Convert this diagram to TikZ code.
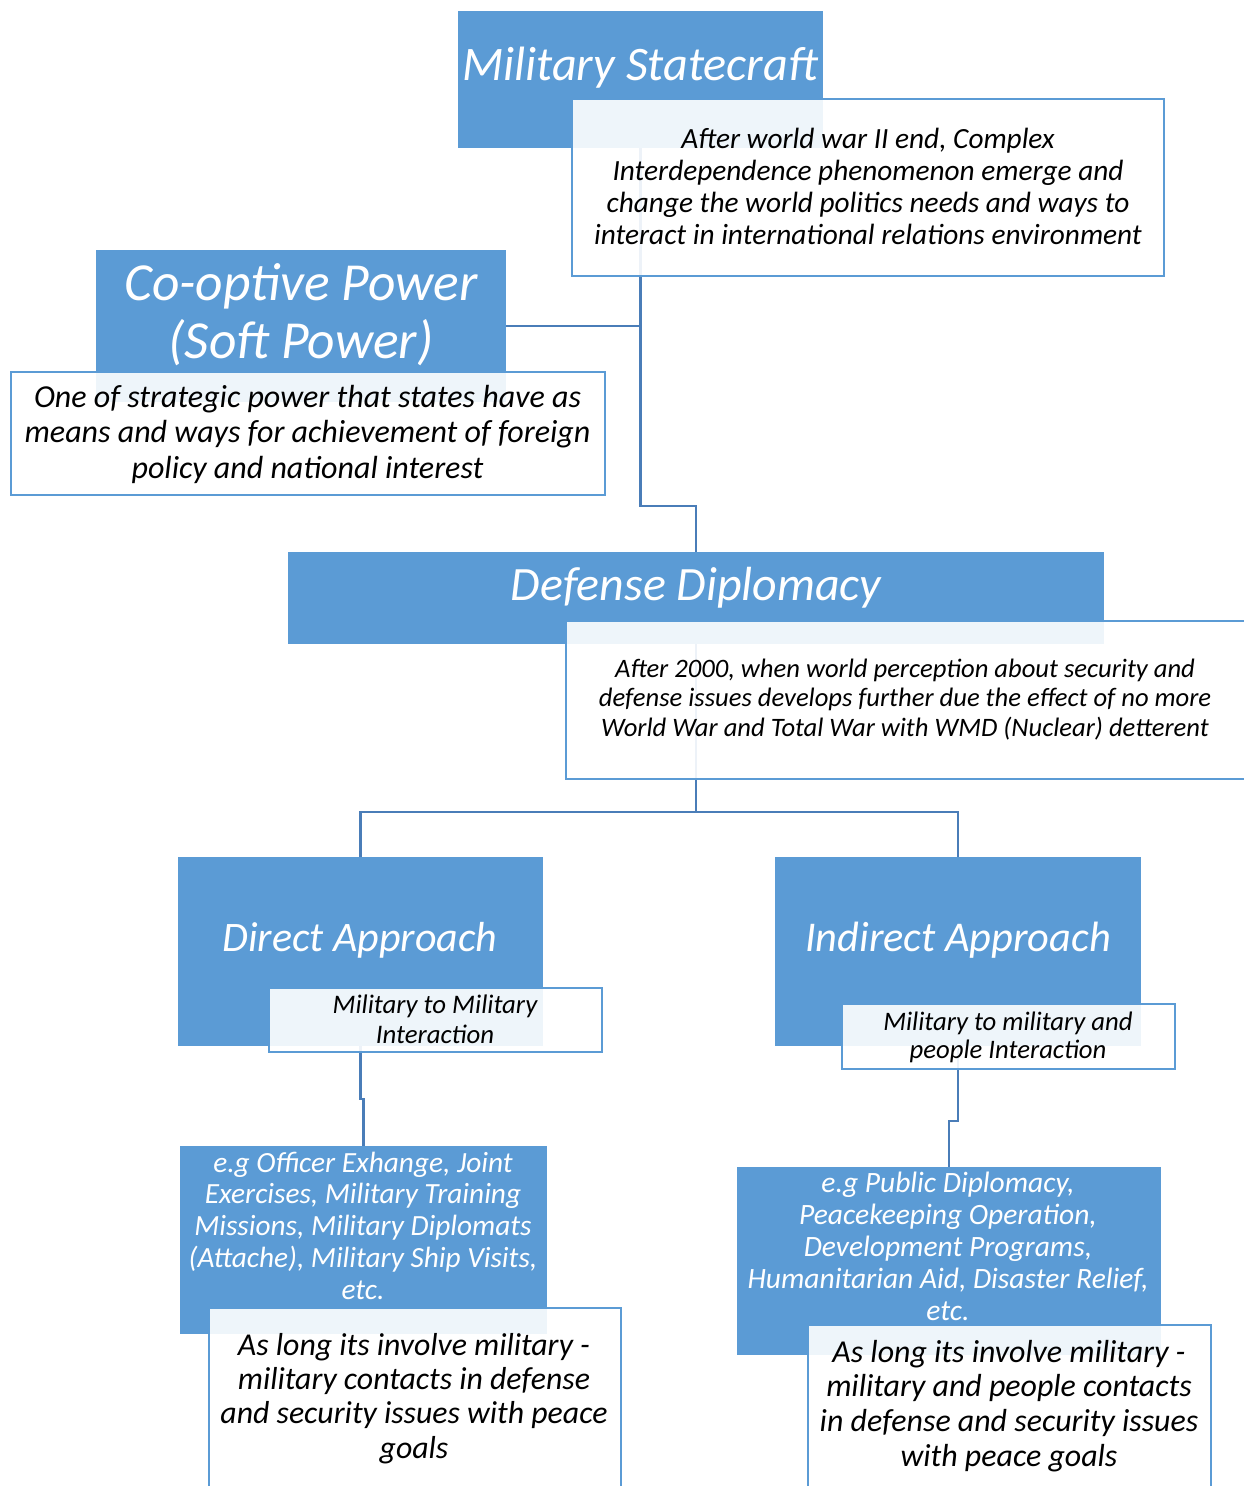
\documentclass[tikz,border=0pt]{standalone}
\usepackage{fontspec}
\setmainfont{Carlito}
\usetikzlibrary{calc}
\definecolor{bfill}{HTML}{5B9BD5}
\definecolor{bline}{HTML}{5B9BD5}
\definecolor{conncol}{HTML}{4A7DB8}
\newcommand\tstr{\rule{0pt}{0.9em}}
\begin{document}
\begin{tikzpicture}[x=1pt,y=-1pt,
  bluebox/.style={fill=bfill, draw=none, inner sep=0pt, outer sep=0pt, anchor=north west},
  whitebox/.style={fill=white, fill opacity=0.9, draw=bline, line width=2.5pt, inner sep=0pt, outer sep=0pt, anchor=north west},
  conn/.style={draw=conncol, line width=2.5pt},
  txt/.style={inner sep=0pt, align=center, anchor=north},
  wtxt/.style={txt, text=white},
  btxt/.style={txt, text=black}
]
\useasboundingbox (0,0) rectangle (1244,1486);

% coordinates for connector elbows
\coordinate (j1) at (0,506);
\coordinate (j2) at (0,812);
\coordinate (j3) at (0,1099);
\coordinate (j4) at (0,1121);

% blue boxes
\node[bluebox, minimum width=365pt, minimum height=137pt] (msb) at (458,11) {};
\node[bluebox, minimum width=410pt, minimum height=152pt] (cob) at (96,250) {};
\node[bluebox, minimum width=816pt, minimum height=92pt] (ddb) at (288,552) {};
\node[bluebox, minimum width=365pt, minimum height=189pt] (dab) at (178,857) {};
\node[bluebox, minimum width=366pt, minimum height=189pt] (iab) at (775,857) {};
\node[bluebox, minimum width=367pt, minimum height=188pt] (deb) at (180,1146) {};
\node[bluebox, minimum width=424pt, minimum height=188pt] (ieb) at (737,1167) {};

% connectors (behind the white boxes)
\draw[conn] (msb.south) |- (j1 -| ddb.north) -- (ddb.north);
\draw[conn] (cob.east) -- (cob.east -| msb.south);
\draw[conn] (ddb.south) -- (ddb.south |- j2);
\draw[conn] (dab.north) |- (j2 -| iab.north) -- (iab.north);
\draw[conn] (dab.south) -- (dab.south |- j3) -| (deb.north);
\draw[conn] (iab.south) -- (iab.south |- j4) -| (ieb.north);

% white boxes
\node[whitebox, minimum width=592pt, minimum height=177pt] (msw) at (572,99) {};
\node[whitebox, minimum width=594pt, minimum height=123pt] (cow) at (11,372) {};
\node[whitebox, minimum width=700pt, minimum height=158pt] (ddw) at (566,621) {};
\node[whitebox, minimum width=333pt, minimum height=64pt] (daw) at (269,988) {};
\node[whitebox, minimum width=333pt, minimum height=65pt] (iaw) at (842,1004) {};
\node[whitebox, minimum width=412pt, minimum height=200pt] (dew) at (209,1308) {};
\node[whitebox, minimum width=403pt, minimum height=200pt] (iew) at (808,1325) {};

% texts
\node[wtxt, font=\fontsize{48.2}{56}\selectfont\itshape] (mst) at (640,36.6) {\tstr Military Statecraft};
\node[btxt, font=\fontsize{29.3}{32.2}\selectfont\itshape] (msd) at (868,121.6)
  {\tstr After world war II end, Complex\\Interdependence phenomenon emerge and\\change the world politics needs and ways to\\interact in international relations environment};
\node[wtxt, font=\fontsize{53.5}{58}\selectfont\itshape] (cot) at (301,251.85) {\tstr Co-optive Power\\(Soft Power)};
\node[btxt, font=\fontsize{32}{35.5}\selectfont\itshape] (cod) at (307.5,378.2)
  {\tstr One of strategic power that states have as\\means and ways for achievement of foreign\\policy and national interest};
\node[wtxt, font=\fontsize{47.9}{56}\selectfont\itshape] (ddt) at (696,556.9) {\tstr Defense Diplomacy};
\node[btxt, font=\fontsize{26.6}{29.5}\selectfont\itshape] (ddd) at (905,653.1)
  {\tstr After 2000, when world perception about security and\\defense issues develops further due the effect of no more\\World War and Total War with WMD (Nuclear) detterent};
\node[wtxt, font=\fontsize{42}{48}\selectfont\itshape] (dat) at (360,913.2) {\tstr Direct Approach};
\node[btxt, font=\fontsize{26.8}{30}\selectfont\itshape] (dad) at (435,988.9) {\tstr Military to Military\\Interaction};
\node[wtxt, font=\fontsize{42.4}{48}\selectfont\itshape] (iat) at (958,912.8) {\tstr Indirect Approach};
\node[btxt, font=\fontsize{26.7}{28.5}\selectfont\itshape] (iad) at (1008,1006) {\tstr Military to military and\\people Interaction};
\node[wtxt, font=\fontsize{29.3}{31.8}\selectfont\itshape] (det) at (363,1145.6)
  {\tstr e.g Officer Exhange, Joint\\Exercises, Military Training\\Missions, Military Diplomats\\(Attache), Military Ship Visits,\\etc.};
\node[btxt, font=\fontsize{31.8}{34.3}\selectfont\itshape] (ded) at (414,1326.4)
  {\tstr As long its involve military -\\military contacts in defense\\and security issues with peace\\goals};
\node[wtxt, font=\fontsize{29.5}{32}\selectfont\itshape] (iet) at (948,1165.45)
  {\tstr e.g Public Diplomacy,\\Peacekeeping Operation,\\Development Programs,\\Humanitarian Aid, Disaster Relief,\\etc.};
\node[btxt, font=\fontsize{31.9}{34.7}\selectfont\itshape] (ied) at (1009,1333.3)
  {\tstr As long its involve military -\\military and people contacts\\in defense and security issues\\with peace goals};
\end{tikzpicture}
\end{document}
